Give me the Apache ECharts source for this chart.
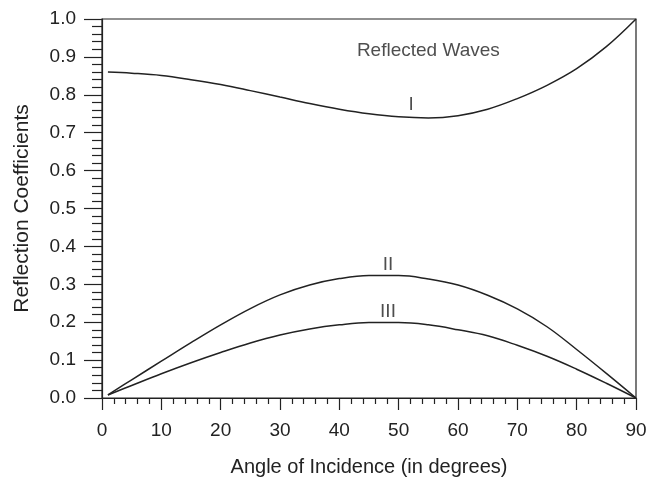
<!DOCTYPE html>
<html>
<head>
<meta charset="utf-8">
<script src="https://cdn.jsdelivr.net/npm/echarts@6/dist/echarts.min.js"></script>
<style>
html,body{margin:0;padding:0;background:#fff;}
#chart{width:648px;height:478px;}
</style>
</head>
<body>
<div id="chart"></div>
<script>
const angles  = [1, 5, 10, 15, 20, 25, 30, 35, 40, 45, 50, 55, 60, 65, 70, 75, 80, 85, 90];
const waveI   = [0.860, 0.857, 0.851, 0.840, 0.827, 0.811, 0.794, 0.777, 0.762, 0.750, 0.742, 0.739, 0.745, 0.762, 0.790, 0.825, 0.869, 0.927, 1.000];
const waveII  = [0.008, 0.048, 0.097, 0.146, 0.193, 0.236, 0.272, 0.298, 0.315, 0.323, 0.323, 0.314, 0.298, 0.271, 0.235, 0.188, 0.128, 0.065, 0.000];
const waveIII = [0.008, 0.033, 0.064, 0.093, 0.120, 0.145, 0.166, 0.182, 0.193, 0.199, 0.199, 0.193, 0.180, 0.164, 0.139, 0.110, 0.076, 0.039, 0.000];
const annotations = [
  {text: 'Reflected Waves', x: 55, y: 0.916, size: 19},
  {text: 'I', x: 52.1, y: 0.773, size: 19},
  {text: 'II', x: 48.2, y: 0.351, size: 19},
  {text: 'III', x: 48.2, y: 0.227, size: 19}
];
const xTitle = 'Angle of Incidence (in degrees)';
const yTitle = 'Reflection Coefficients';

const FONT = 'Liberation Sans, Arial, sans-serif';
const INK = '#222';

function pairs(ys){ return angles.map((a,i)=>[a, ys[i]]); }
function curve(ys){
  return {type:'line', data:pairs(ys), smooth:0.4, showSymbol:false, symbol:'none',
    lineStyle:{color:INK, width:1.5}, silent:true, z:3};
}

const chart = echarts.init(document.getElementById('chart'), null, {renderer:'canvas'});
chart.setOption({
  animation:false,
  backgroundColor:'#fff',
  grid:{left:102, right:12, top:19, bottom:80, show:true, borderColor:INK, borderWidth:1.2,
        containLabel:false, outerBoundsMode:'none'},
  xAxis:{
    type:'value', min:0, max:90, interval:10,
    name:xTitle, nameLocation:'middle', nameGap:59,
    nameTextStyle:{fontFamily:FONT, fontSize:20, color:INK},
    axisLine:{show:true, onZero:false, lineStyle:{color:INK, width:1.2}},
    axisTick:{show:true, inside:false, length:12, lineStyle:{color:INK, width:1.2}},
    minorTick:{show:true, splitNumber:5, length:6, lineStyle:{color:INK, width:1.2}},
    axisLabel:{fontFamily:FONT, fontSize:19, color:INK, margin:23},
    splitLine:{show:false}, minorSplitLine:{show:false}
  },
  yAxis:{
    type:'value', min:0, max:1, interval:0.1,
    name:yTitle, nameLocation:'middle', nameGap:69, nameRotate:90,
    nameTextStyle:{fontFamily:FONT, fontSize:21, color:INK},
    axisLine:{show:true, onZero:false, lineStyle:{color:INK, width:1.2}},
    axisTick:{show:true, inside:false, length:18, lineStyle:{color:INK, width:1.2}},
    minorTick:{show:true, splitNumber:5, length:10, lineStyle:{color:INK, width:1.2}},
    axisLabel:{fontFamily:FONT, fontSize:19, color:INK, margin:26, formatter:v=>v.toFixed(1)},
    splitLine:{show:false}, minorSplitLine:{show:false}
  },
  series:[
    curve(waveI), curve(waveII), curve(waveIII),
    {type:'scatter', symbolSize:0, silent:true, z:5,
     data:annotations.map(a=>({value:[a.x,a.y], name:a.text,
       label:{show:true, position:'inside', formatter:a.text, fontFamily:FONT, fontSize:a.size, color:INK}}))}
  ]
});
</script>
</body>
</html>
